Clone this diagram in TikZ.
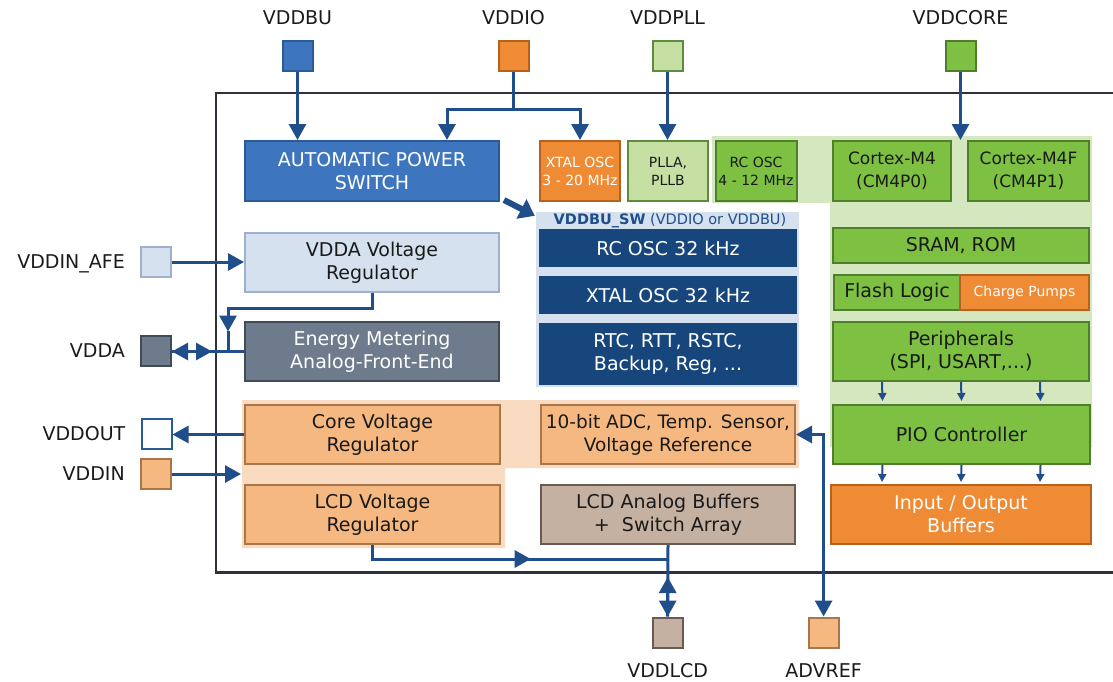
\documentclass[tikz,border=0pt]{standalone}
\usepackage{fontspec}
\setmainfont{DejaVu Sans}
\usepackage{tikz}
\usetikzlibrary{arrows.meta}
\usetikzlibrary{positioning}

\definecolor{lineblue}{HTML}{1F4E8A}
\definecolor{apsblue}{HTML}{3D76BE}
\definecolor{apsedge}{HTML}{2C5A96}
\definecolor{navy}{HTML}{17467D}
\definecolor{orangefill}{HTML}{EF8B35}
\definecolor{orangeedge}{HTML}{B5621F}
\definecolor{peachfill}{HTML}{F4B880}
\definecolor{peachedge}{HTML}{A9764C}
\definecolor{peachbg}{HTML}{F9DBC1}
\definecolor{palegreen}{HTML}{C6E0A4}
\definecolor{paleedgegreen}{HTML}{5E8B3E}
\definecolor{greenbg}{HTML}{D4E7BE}
\definecolor{greenfill}{HTML}{7DC042}
\definecolor{greenedge}{HTML}{4F7F2C}
\definecolor{paleblue}{HTML}{D6E1EF}
\definecolor{paleedge}{HTML}{9DB1CD}
\definecolor{slate}{HTML}{6E7B8D}
\definecolor{slateedge}{HTML}{404B58}
\definecolor{taupe}{HTML}{C5B1A1}
\definecolor{taupeedge}{HTML}{6B5A52}
\definecolor{framegray}{HTML}{2E323A}
\definecolor{inktext}{HTML}{1A1A1A}

\tikzset{
  blk/.style={draw, line width=2pt, inner sep=0pt, align=center,
    font=\fontsize{19}{23}\selectfont, text=inktext},
  smallblk/.style={blk, font=\fontsize{14}{18}\selectfont},
  padsq/.style={draw, line width=2pt, minimum size=30pt, inner sep=0pt},
  padlabel/.style={font=\fontsize{19}{22}\selectfont, text=inktext,
    inner sep=0pt, text height=13.8pt, text depth=0pt},
  wire/.style={draw=lineblue, line width=3pt},
  arr/.style={wire, -{Triangle[width=17pt,length=16pt]}},
  darr/.style={wire, {Triangle[width=17pt,length=16pt]}-{Triangle[width=17pt,length=16pt]}},
  sarr/.style={draw=lineblue, line width=2pt, -{Triangle[width=8pt,length=8pt]}},
}

\begin{document}
\begin{tikzpicture}[x=1pt,y=-1pt]
    \useasboundingbox (0,0) rectangle (1113,681);

    % 背景
    \fill[greenbg] (712,136) -- (1092,136) -- (1092,447) -- (830,447) -- (830,203) -- (712,203) -- cycle;
    \fill[peachbg] (242,400) -- (799,400) -- (799,468) -- (505,468) -- (505,548) -- (242,548) -- cycle;
    \node[fill=paleblue, minimum width=263pt, minimum height=175pt, inner sep=0pt] (busw) at (667.5,299.5) {};
    \node[font=\fontsize{14.5}{16}\selectfont, text=lineblue, inner sep=0pt] (buswtitle) at (670,221)
        {\textbf{VDDBU\_SW} (VDDIO or VDDBU)};

    % 外框
    \draw[framegray, line width=2.2pt] (1113,93) -| (216,572.5) -- (1113,572.5);

    % 引脚
    \node[padsq, fill=apsblue, draw=apsedge] (pbu) at (297.5,55.5) {};
    \node[padsq, fill=orangefill, draw=orangeedge] (pio) at (513.5,55.5) {};
    \node[padsq, fill=palegreen, draw=paleedgegreen] (ppll) at (667.5,55.5) {};
    \node[padsq, fill=greenfill, draw=greenedge] (pcore) at (960.5,55.5) {};
    \node[padsq, fill=paleblue, draw=paleedge] (pafe) at (156,262) {};
    \node[padsq, fill=slate, draw=slateedge] (pvdda) at (156,351) {};
    \node[padsq, fill=white, draw=apsedge] (pout) at (156.5,434) {};
    \node[padsq, fill=peachfill, draw=peachedge] (pin) at (156,474) {};
    \node[padsq, fill=taupe, draw=taupeedge] (plcd) at (667.7,632.5) {};
    \node[padsq, fill=peachfill, draw=peachedge] (pref) at (823.6,632.5) {};

    \node[padlabel, above=15pt of pbu] (lbu) {VDDBU};
    \node[padlabel, above=15pt of pio] (lio) {VDDIO};
    \node[padlabel, above=15pt of ppll] (lpll) {VDDPLL};
    \node[padlabel, above=15pt of pcore] (lcore) {VDDCORE};
    \node[padlabel, left=15pt of pafe] (lafe) {VDDIN\_AFE};
    \node[padlabel, left=15pt of pvdda] (lvdda) {VDDA};
    \node[padlabel, left=15pt of pout] (lout) {VDDOUT};
    \node[padlabel, left=15pt of pin] (lin) {VDDIN};
    \node[padlabel, below=15pt of plcd] (llcd) {VDDLCD};
    \node[padlabel, below=15pt of pref] (lref) {ADVREF};

    % 方块
    \node[blk, fill=apsblue, draw=apsedge, text=white, minimum width=254pt, minimum height=60pt] (aps) at (372,171) {AUTOMATIC POWER\\SWITCH};
    \node[smallblk, fill=orangefill, draw=orangeedge, text=white, minimum width=80pt, minimum height=60pt] (xtal) at (580,171) {XTAL OSC\\3 - 20 MHz};
    \node[smallblk, fill=palegreen, draw=paleedgegreen, minimum width=80pt, minimum height=60pt] (pll) at (668,171) {PLLA,\\PLLB};
    \node[smallblk, fill=greenfill, draw=greenedge, minimum width=81pt, minimum height=60pt] (rcosc) at (756,171) {RC OSC\\4 - 12 MHz};
    \node[blk, fill=greenfill, draw=greenedge, minimum width=118pt, minimum height=60pt, font=\fontsize{17}{23}\selectfont] (cm4) at (892,171) {Cortex-M4\\(CM4P0)};
    \node[blk, fill=greenfill, draw=greenedge, minimum width=121pt, minimum height=60pt, font=\fontsize{17}{23}\selectfont] (cm4f) at (1028.5,171) {Cortex-M4F\\(CM4P1)};

    \node[blk, fill=navy, draw=navy, text=white, minimum width=256pt, minimum height=36pt] (rc32) at (668,248) {RC OSC 32 kHz};
    \node[blk, fill=navy, draw=navy, text=white, minimum width=256pt, minimum height=36pt] (xt32) at (668,295) {XTAL OSC 32 kHz};
    \node[blk, fill=navy, draw=navy, text=white, minimum width=256pt, minimum height=60pt] (rtc) at (668,354) {RTC, RTT, RSTC,\\Backup, Reg, ...};

    \node[blk, fill=paleblue, draw=paleedge, minimum width=254pt, minimum height=59pt] (vddareg) at (372,262.5) {VDDA Voltage\\Regulator};
    \node[blk, fill=slate, draw=slateedge, text=white, minimum width=254pt, minimum height=59pt] (afe) at (372,351.5) {Energy Metering\\Analog-Front-End};
    \node[blk, fill=peachfill, draw=peachedge, minimum width=255pt, minimum height=59pt] (corereg) at (372.5,434.5) {Core Voltage\\Regulator};
    \node[blk, fill=peachfill, draw=peachedge, minimum width=255pt, minimum height=59pt] (lcdreg) at (372.5,514.5) {LCD Voltage\\Regulator};
    \node[blk, fill=peachfill, draw=peachedge, minimum width=254pt, minimum height=59pt, font=\fontsize{18.5}{23}\selectfont] (adc) at (668,434.5) {10-bit ADC, Temp. Sensor,\\Voltage Reference};
    \node[blk, fill=taupe, draw=taupeedge, minimum width=254pt, minimum height=59pt] (lcdbuf) at (668,514.5) {LCD Analog Buffers\\+~~Switch Array};

    \node[blk, fill=greenfill, draw=greenedge, minimum width=256pt, minimum height=35pt] (sram) at (961,245.5) {SRAM, ROM};
    \node[blk, fill=greenfill, draw=greenedge, minimum width=126pt, minimum height=35pt] (flash) at (897,292.5) {Flash Logic};
    \node[smallblk, fill=orangefill, draw=orangeedge, text=white, minimum width=129pt, minimum height=35pt] (pumps) at (1024.5,292.5) {Charge Pumps};
    \node[blk, fill=greenfill, draw=greenedge, minimum width=256pt, minimum height=59pt] (periph) at (961,351.5) {Peripherals\\(SPI, USART,...)};
    \node[blk, fill=greenfill, draw=greenedge, minimum width=257pt, minimum height=59pt] (pioc) at (961.5,434.5) {PIO Controller};
    \node[blk, fill=orangefill, draw=orangeedge, text=white, minimum width=260pt, minimum height=59pt] (iobuf) at (961,514.5) {Input / Output\\Buffers};

    % 连线
    \draw[arr] (pbu.south) -- (pbu.south |- aps.north);
    \coordinate (iosplit) at (513.5,109.5);
    \draw[wire] (pio.south) -- (iosplit);
    \draw[arr] (iosplit) -| ([xshift=75pt]aps.north);
    \draw[arr] (iosplit) -| (xtal.north);
    \draw[arr] (ppll.south) -- (ppll.south |- pll.north);
    \draw[arr] (pcore.south) -- (pcore.south |- cm4.north);
    \draw[lineblue, line width=6pt, -{Triangle[width=21pt,length=15pt]}]
        ([xshift=4pt,yshift=2pt]aps.south east) -- ([xshift=-1pt,yshift=-4pt]busw.north west);

    \draw[arr] (pafe.east) -- (pafe.east -| vddareg.west);
    \coordinate (vddajn) at (228,351.5);
    \draw[arr] (vddareg.south) -- ++(0,15) -| ([yshift=20pt]vddajn);
    \draw[wire] ([yshift=21pt]vddajn) -- (vddajn);
    \draw[arr] (afe.west) -- (afe.west -| pvdda.east);
    \draw[arr] (afe.west -| pvdda.east) -- ([xshift=-32pt]afe.west);

    \draw[arr] (corereg.west) -- (corereg.west -| pout.east);
    \coordinate (vddinend) at (241,474);
    \draw[arr] (pin.east) -- (vddinend);

    \coordinate (lcdjn) at (667.7,559);
    \draw[wire] (lcdreg.south) |- (lcdjn);
    \draw[arr] (lcdreg.south) |- ([xshift=-137pt]lcdjn);
    \draw[wire] (lcdbuf.south) -- (plcd.north);
    \draw[darr] ([yshift=-18pt]lcdjn) -- (plcd.north);
    \draw[darr] (adc.east) -| (pref.north);

    \foreach \dx in {-79,0,79} {
        \draw[sarr] ([xshift=\dx pt]periph.south) -- ([xshift=\dx pt,yshift=3pt]pioc.north);
        \draw[sarr] ([xshift=\dx pt]pioc.south) -- ([xshift=\dx pt,yshift=2pt]iobuf.north);
    }
\end{tikzpicture}
\end{document}
